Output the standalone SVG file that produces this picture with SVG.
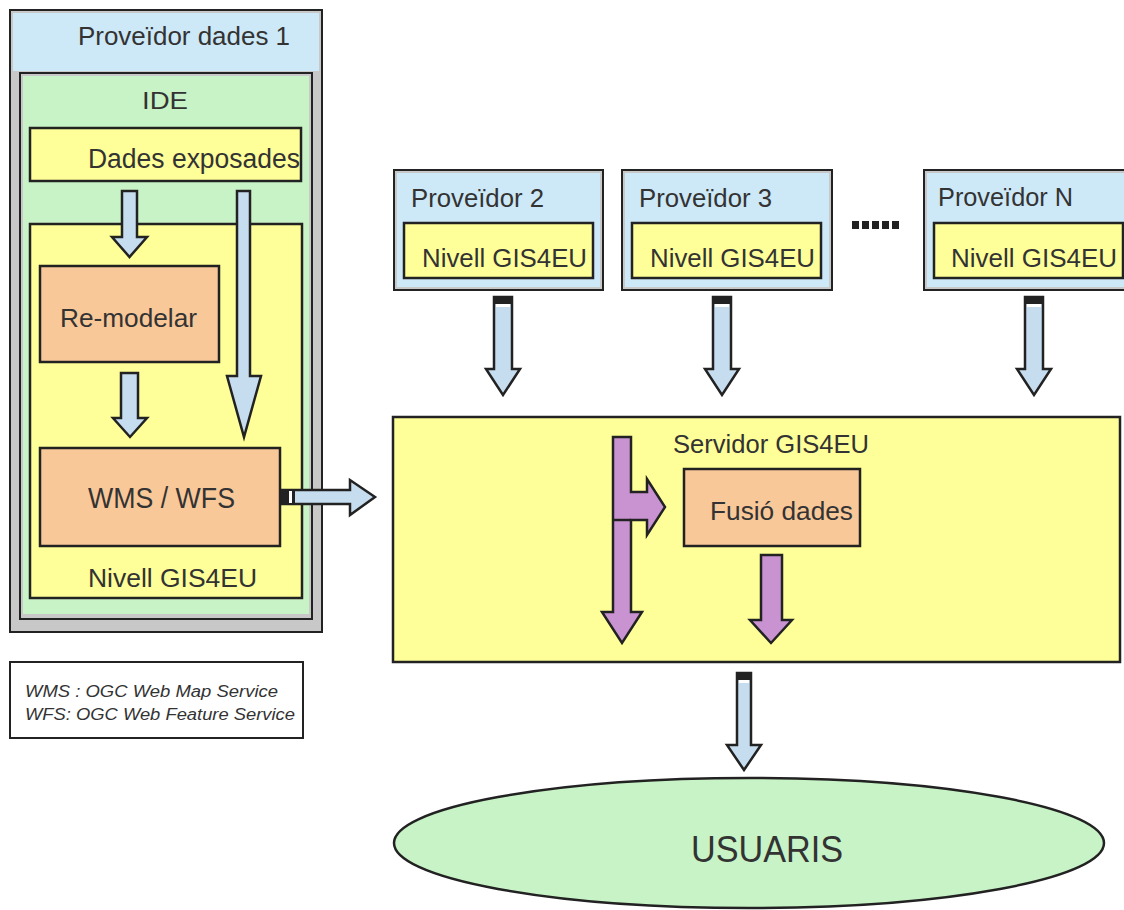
<svg xmlns="http://www.w3.org/2000/svg" width="1124" height="910" viewBox="0 0 1124 910">
<style>
.frame{fill:#c8c8c8;stroke:#222;stroke-width:2}
.blue{fill:#cde8f7}
.green{fill:#c8f3c6}
.yellow{fill:#ffff99;stroke:#222;stroke-width:2.5}
.orange{fill:#f9c899;stroke:#222;stroke-width:2.5}
.t{font-family:"Liberation Sans",Arial,sans-serif;fill:#333}
.arr{fill:#c6dcef;stroke:#222;stroke-width:2.5;stroke-linejoin:miter}
.parr{fill:#c992d0;stroke:#222;stroke-width:2.5;stroke-linejoin:miter}
.cap{fill:#222}
.legend{fill:#fff;stroke:#222;stroke-width:2}
.lt{font-family:"Liberation Sans",Arial,sans-serif;font-style:italic;font-size:16px;fill:#333}
</style>
<rect width="1124" height="910" fill="#fff"/>

<g id="proveidor1">
<rect class="frame" x="10" y="10" width="312" height="622"/>
<rect class="blue" x="13" y="13" width="306" height="58"/>
<text class="t" x="78" y="45" font-size="25" textLength="212" lengthAdjust="spacingAndGlyphs">Proveïdor dades 1</text>
</g>

<g id="ide">
<rect class="frame" x="20" y="73" width="292" height="546"/>
<rect class="green" x="23" y="76" width="286" height="538"/>
<text class="t" x="142" y="109" font-size="23" textLength="46" lengthAdjust="spacingAndGlyphs">IDE</text>
</g>

<g id="dades-exposades">
<rect class="yellow" x="30" y="128" width="271" height="53"/>
<text class="t" x="88" y="168" font-size="27" textLength="212" lengthAdjust="spacingAndGlyphs">Dades exposades</text>
</g>

<g id="nivell1">
<rect class="yellow" x="30" y="224" width="272" height="374"/>
<text class="t" x="88" y="587" font-size="26" textLength="169" lengthAdjust="spacingAndGlyphs">Nivell GIS4EU</text>
</g>

<g id="remodelar">
<rect class="orange" x="40" y="266" width="179" height="96"/>
<text class="t" x="60" y="327" font-size="26" textLength="137" lengthAdjust="spacingAndGlyphs">Re-modelar</text>
</g>

<g id="wms-wfs">
<rect class="orange" x="40" y="448" width="240" height="98"/>
<text class="t" x="88" y="508" font-size="30" textLength="147" lengthAdjust="spacingAndGlyphs">WMS / WFS</text>
</g>

<g id="legend">
<rect class="legend" x="10" y="662" width="293" height="76"/>
<text class="lt" x="25" y="697" textLength="253" lengthAdjust="spacingAndGlyphs">WMS : OGC Web Map Service</text>
<text class="lt" x="25" y="720" textLength="270" lengthAdjust="spacingAndGlyphs">WFS: OGC Web Feature Service</text>
</g>

<g id="proveidor2">
<rect class="frame" x="394" y="170" width="209" height="120"/>
<rect class="blue" x="397" y="173" width="203" height="114"/>
<rect class="yellow" x="404" y="223" width="189" height="55"/>
<text class="t" x="411" y="207" font-size="25" textLength="133" lengthAdjust="spacingAndGlyphs">Proveïdor 2</text>
<text class="t" x="422" y="267" font-size="26" textLength="165" lengthAdjust="spacingAndGlyphs">Nivell GIS4EU</text>
</g>

<g id="proveidor3">
<rect class="frame" x="622" y="170" width="210" height="120"/>
<rect class="blue" x="625" y="173" width="204" height="114"/>
<rect class="yellow" x="632" y="223" width="189" height="55"/>
<text class="t" x="639" y="207" font-size="25" textLength="133" lengthAdjust="spacingAndGlyphs">Proveïdor 3</text>
<text class="t" x="650" y="267" font-size="26" textLength="165" lengthAdjust="spacingAndGlyphs">Nivell GIS4EU</text>
</g>

<g id="dots">
<rect class="cap" x="852" y="221" width="7" height="8"/>
<rect class="cap" x="862" y="221" width="7" height="8"/>
<rect class="cap" x="872" y="221" width="7" height="8"/>
<rect class="cap" x="882" y="221" width="7" height="8"/>
<rect class="cap" x="892" y="221" width="7" height="8"/>
</g>

<g id="proveidorN">
<rect class="frame" x="924" y="170" width="210" height="120"/>
<rect class="blue" x="927" y="173" width="204" height="114"/>
<rect class="yellow" x="934" y="223" width="189" height="55"/>
<text class="t" x="938" y="206" font-size="25" textLength="135" lengthAdjust="spacingAndGlyphs">Proveïdor N</text>
<text class="t" x="951" y="267" font-size="26" textLength="166" lengthAdjust="spacingAndGlyphs">Nivell GIS4EU</text>
</g>

<g id="servidor">
<rect class="yellow" x="393" y="417" width="727" height="245"/>
<text class="t" x="673" y="453" font-size="25" textLength="196" lengthAdjust="spacingAndGlyphs">Servidor GIS4EU</text>
</g>

<g id="fusio">
<rect class="orange" x="684" y="469" width="176" height="77"/>
<text class="t" x="710" y="520" font-size="26" textLength="143" lengthAdjust="spacingAndGlyphs">Fusió dades</text>
</g>

<g id="usuaris">
<ellipse cx="749" cy="843" rx="355" ry="65" fill="#c8f3c6" stroke="#222" stroke-width="2.5"/>
<text class="t" x="691" y="862" font-size="36" textLength="152" lengthAdjust="spacingAndGlyphs">USUARIS</text>
</g>

<g id="connectors">
<!-- Dades exposades -> Re-modelar -->
<polygon class="arr" points="122,191 137,191 137,237 147,237 129.5,257 112,237 122,237"/>
<!-- Dades exposades -> WMS/WFS (long) -->
<polygon class="arr" points="237,191 250,191 250,376 261,376 244,437 227,376 237,376"/>
<!-- Re-modelar -> WMS/WFS -->
<polygon class="arr" points="121,373 138,373 138,418 147,418 130,437 113,418 121,418"/>
<!-- WMS/WFS -> Servidor -->
<polygon class="arr" points="282,490 350,490 350,480 375,497 350,515 350,504 282,504"/>
<rect class="cap" x="282" y="490" width="7" height="14"/>
<rect x="289" y="491" width="3" height="12" fill="#fff"/>
<rect class="cap" x="292" y="490" width="3" height="14"/>
<!-- Proveïdor 2 -> Servidor -->
<polygon class="arr" points="494,297 512,297 512,369 520,369 503,395 486,369 494,369"/>
<rect class="cap" x="494" y="297" width="18" height="7"/>
<rect x="496" y="304" width="14" height="3" fill="#fff"/>
<!-- Proveïdor 3 -> Servidor -->
<polygon class="arr" points="713,297 731,297 731,369 739,369 722,395 705,369 713,369"/>
<rect class="cap" x="713" y="297" width="18" height="7"/>
<rect x="715" y="304" width="14" height="3" fill="#fff"/>
<!-- Proveïdor N -> Servidor -->
<polygon class="arr" points="1025,297 1043,297 1043,369 1051,369 1034,395 1017,369 1025,369"/>
<rect class="cap" x="1025" y="297" width="18" height="7"/>
<rect x="1027" y="304" width="14" height="3" fill="#fff"/>
<!-- Servidor internal: incoming to Fusió and pass-through -->
<polygon class="parr" points="613,437 631,437 631,492 647,492 647,479 665,507 647,535 647,520 631,520 631,612 642,612 622,643 602,612 613,612"/>
<line x1="613" y1="520" x2="631" y2="520" stroke="#222" stroke-width="2.5"/>
<!-- Fusió -> down -->
<polygon class="parr" points="761,555 782,555 782,620 792,620 771,643 750,620 761,620"/>
<!-- Servidor -> USUARIS -->
<polygon class="arr" points="737,673 751,673 751,745 761,745 744,770 727,745 737,745"/>
<rect class="cap" x="737" y="673" width="14" height="7"/>
<rect x="739" y="680" width="10" height="3" fill="#fff"/>
</g>
</svg>
